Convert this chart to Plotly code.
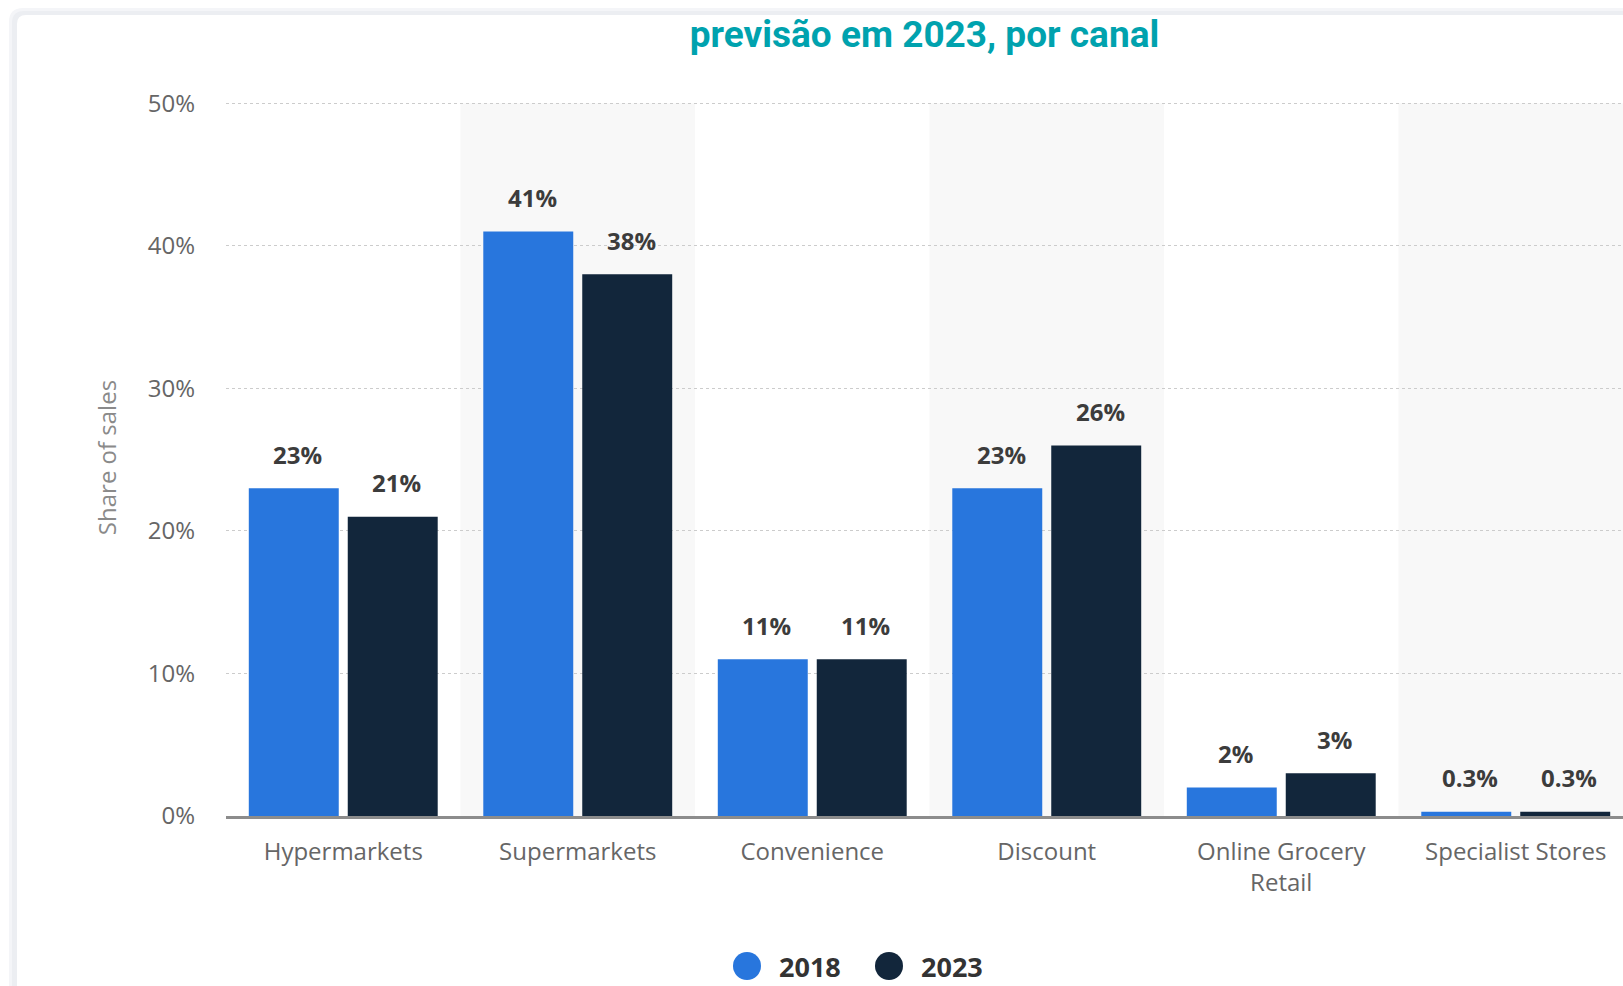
import plotly.graph_objects as go

# ---- data -------------------------------------------------------------
categories = ["Hypermarkets", "Supermarkets", "Convenience", "Discount",
              "Online Grocery<br>Retail", "Specialist Stores"]
share_2018 = [23, 41, 11, 23, 2, 0.3]
share_2023 = [21, 38, 11, 26, 3, 0.3]
series_names = ["2018", "2023"]
y_ticks = [0, 10, 20, 30, 40, 50]
y_tick_labels = [f"{v}%" for v in y_ticks]
title_text = "previsão em 2023, por canal"
y_title = "Share of sales"

# ---- style ------------------------------------------------------------
C2018 = "#2876dd"
C2023 = "#12263b"
TEAL = "#00a2ae"
TICK_FONT = "Open Sans, Liberation Sans, Arial, sans-serif"
TITLE_FONT = "Roboto, Liberation Sans, Arial, sans-serif"

W, H = 1623, 986
y_max = 50.3                        # a little headroom so the 50% gridline is kept
L, R, T, B = 226, 0, 99, 170
plot_w = W - L - R
plot_h = H - T - B
cat_px = 234.5                      # width of one category band in px
x_range = [-0.5, -0.5 + plot_w / cat_px]
bargap, bargroupgap = 0.156, 0.091
bar_shift = cat_px * (1 - bargap) / 4   # centre of each bar from category centre


def px(x):
    return (x - L) / plot_w


def py(y):
    return (H - B - y) / plot_h


def card_path(x0, y0, x1, y1, r):
    """Rectangle with a rounded top-left corner, in paper coordinates."""
    return (f"M {px(x0)},{py(y0 + r)} Q {px(x0)},{py(y0)} {px(x0 + r)},{py(y0)} "
            f"L {px(x1)},{py(y0)} L {px(x1)},{py(y1)} L {px(x0)},{py(y1)} Z")


fig = go.Figure()
for name, vals, col in zip(series_names, [share_2018, share_2023], [C2018, C2023]):
    fig.add_trace(go.Bar(name=name, x=categories, y=vals, marker_color=col,
                         marker_line_width=0, hoverinfo="skip"))

shapes = []
# card with soft shadow
shapes.append(dict(type="path", xref="paper", yref="paper", layer="below",
                   path=card_path(9, 8, 1800, 1200, 14), fillcolor="#f4f5f8", line_width=0))
shapes.append(dict(type="path", xref="paper", yref="paper", layer="below",
                   path=card_path(12, 11, 1800, 1200, 12), fillcolor="#eceef2", line_width=0))
shapes.append(dict(type="path", xref="paper", yref="paper", layer="below",
                   path=card_path(17, 15, 1800, 1200, 9), fillcolor="#ffffff", line_width=0))
# alternating category bands
for i in range(len(categories)):
    if i % 2 == 1:
        shapes.append(dict(type="rect", xref="x", yref="y", layer="below",
                           x0=i - 0.5, x1=i + 0.5, y0=0, y1=y_ticks[-1],
                           fillcolor="#f8f8f8", line_width=0))

annotations = []
# value labels above the bars
for vals, sign in [(share_2018, -1), (share_2023, 1)]:
    for cat, v in zip(categories, vals):
        annotations.append(dict(x=cat, y=v, xref="x", yref="y", text=f"<b>{v:g}%</b>",
                                showarrow=False, xshift=sign * bar_shift + 4, yshift=34,
                                yanchor="middle",
                                font=dict(family=TICK_FONT, size=24, color="#3c3c3c")))

# legend: round swatches with bold labels
legend_items = [(series_names[0], C2018, 747), (series_names[1], C2023, 889)]
legend_y = 966
for name, col, cx in legend_items:
    shapes.append(dict(type="circle", xref="paper", yref="paper",
                       x0=px(cx - 14), x1=px(cx + 14),
                       y0=py(legend_y + 14), y1=py(legend_y - 14),
                       fillcolor=col, line_width=0))
    annotations.append(dict(x=px(cx + 30), y=py(legend_y), xref="paper", yref="paper",
                            text=f"<b>{name}</b>", showarrow=False,
                            xanchor="left", yanchor="middle",
                            font=dict(family=TICK_FONT, size=27, color="#333333")))

fig.update_layout(
    width=W, height=H, autosize=False,
    margin=dict(l=L, r=R, t=T, b=B, pad=0),
    paper_bgcolor="#ffffff", plot_bgcolor="rgba(0,0,0,0)",
    barmode="group", bargap=bargap, bargroupgap=bargroupgap,
    showlegend=False,
    title=dict(text=f"<b>{title_text}</b>", x=0.5, xref="paper", xanchor="center",
               y=1 - 34 / H, yref="container", yanchor="middle",
               font=dict(family=TITLE_FONT, size=37, color=TEAL)),
    shapes=shapes, annotations=annotations,
    xaxis=dict(range=x_range, showgrid=False, showline=True, linecolor="#8c8c8c",
               linewidth=3, ticks="", ticklabelstandoff=12,
               tickfont=dict(family=TICK_FONT, size=24, color="#666666")),
    yaxis=dict(range=[0, y_max], tickvals=y_ticks, ticktext=y_tick_labels,
               showline=False, zeroline=False, showgrid=True, gridcolor="#cccccc",
               griddash="dot", gridwidth=1, ticks="", ticklabelstandoff=30,
               tickfont=dict(family=TICK_FONT, size=24, color="#666666"),
               title=dict(text=y_title, standoff=24,
                          font=dict(family=TICK_FONT, size=24, color="#8a8a8a"))),
)

fig.write_html("out.html")
